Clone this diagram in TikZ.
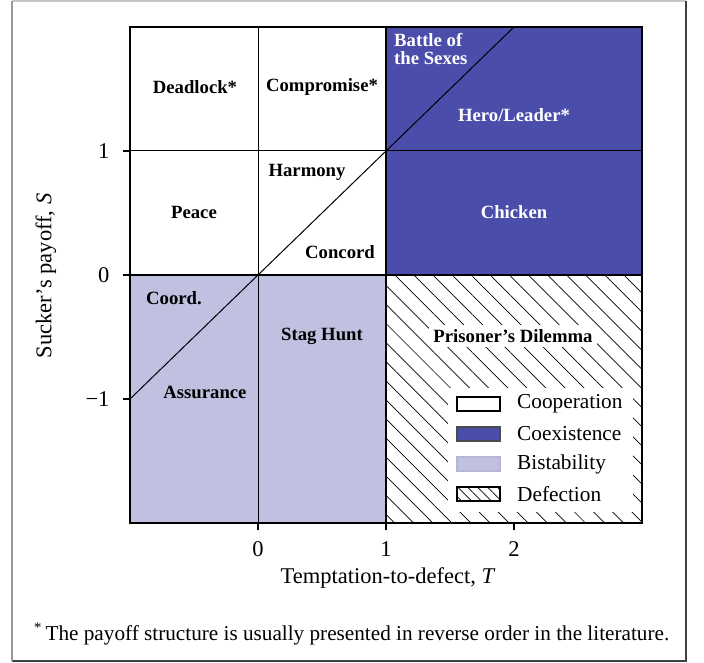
\documentclass[tikz,border=0pt]{standalone}
\usepackage{fontspec}
\setmainfont{Liberation Serif}
\usetikzlibrary{patterns.meta}
\definecolor{coex}{HTML}{4B4DAA}
\definecolor{bist}{HTML}{C0C0E0}
\tikzset{
  lab/.style={font=\fontsize{18.7}{18.5}\selectfont\bfseries, inner sep=1pt},
  wlab/.style={lab, text=white},
  axlab/.style={font=\fontsize{22.5}{24}\selectfont},
  legtxt/.style={font=\fontsize{21.3}{23}\selectfont, anchor=west, inner sep=0pt},
  hatch/.style={pattern={Lines[angle=-45,distance=13.5pt,line width=0.7pt]}},
  thick line/.style={line width=2pt},
  thin line/.style={line width=1pt},
}
\begin{document}
\begin{tikzpicture}[x=1pt,y=-1pt]
\useasboundingbox (0,0) rectangle (704,663);
% outer frame
\draw[gray!45, line width=1.2pt] (12,1) -- (686,1);
\draw[black!75, line width=1.2pt] (686,1) -- (686,661) -- (12,661);
\draw[gray!80, line width=1.2pt] (12,661) -- (12,1);
% regions
\fill[white] (130,27) rectangle (386,275);
\fill[coex] (386,27) rectangle (642,275);
\fill[bist] (130,275) rectangle (386,523);
\fill[hatch] (386,275) rectangle (642,523);
% grid lines
\draw[thin line] (123,151) -- (642,151);
\draw[thin line] (258,27) -- (258,530);
\draw[thin line] (130,399) -- (514,27);
\draw[thick line] (123,275) -- (642,275);
\draw[thick line] (386,27) -- (386,530);
% ticks
\draw[thick line] (123,399) -- (130,399);
\draw[thick line] (514,523) -- (514,530);
\draw[thick line] (123,151) -- (130,151);
\draw[thick line] (258,523) -- (258,530);
% frame of plot
\draw[thick line] (130,27) rectangle (642,523);
% tick labels
\node[axlab, anchor=east] (y1) at (113,151) {1};
\node[axlab, anchor=east] (y0) at (113,275) {0};
\node[axlab, anchor=east] (ym1) at (113,399) {−1};
\node[axlab] (x0) at (258,549) {0};
\node[axlab] (x1) at (386,549) {1};
\node[axlab] (x2) at (514,549) {2};
\node[axlab] (xl) at (388,578) {Temptation-to-defect, \textit{T}};
\node[axlab, rotate=90] (yl) at (46,276) {Sucker’s payoff, \textit{S}};
% region labels
\node[lab] (dead) at (195,87) {Deadlock*};
\node[lab] (comp) at (322,87) {Compromise*};
\node[wlab, align=left, anchor=north west] (bos) at (393,32) {Battle of\\the Sexes};
\node[wlab] (hero) at (514,115) {Hero/Leader*};
\node[lab] (peace) at (194,212) {Peace};
\node[lab] (harm) at (307,172) {Harmony};
\node[lab] (conc) at (340,252) {Concord};
\node[wlab] (chick) at (514,212) {Chicken};
\node[lab] (coord) at (174,298) {Coord.};
\node[lab] (stag) at (322,336) {Stag Hunt};
\node[lab] (assur) at (205,392) {Assurance};
\node[lab, fill=white, inner sep=4pt] (pd) at (513,336) {Prisoner’s Dilemma};
% legend
\fill[white] (448,388) rectangle (633,512);
\draw[line width=1.2pt, fill=white] (457,397) rectangle (500,411);
\draw[line width=1.2pt, black!70, fill=coex] (457,427) rectangle (500,441);
\draw[line width=1.2pt, bist!85!gray, fill=bist] (457,457) rectangle (500,471);
\draw[line width=1.2pt, pattern={Lines[angle=-45,distance=7pt,line width=0.7pt]}] (457,487) rectangle (500,501);
\node[legtxt] (l1) at (517,404) {Cooperation};
\node[legtxt] (l2) at (517,434) {Coexistence};
\node[legtxt] (l3) at (517,464) {Bistability};
\node[legtxt] (l4) at (517,494) {Defection};
% footnote
\node[font=\fontsize{21.2}{23}\selectfont, anchor=west, inner sep=0pt] (fn) at (34,634) {\textsuperscript{*}\,The payoff structure is usually presented in reverse order in the literature.};
\end{tikzpicture}
\end{document}
